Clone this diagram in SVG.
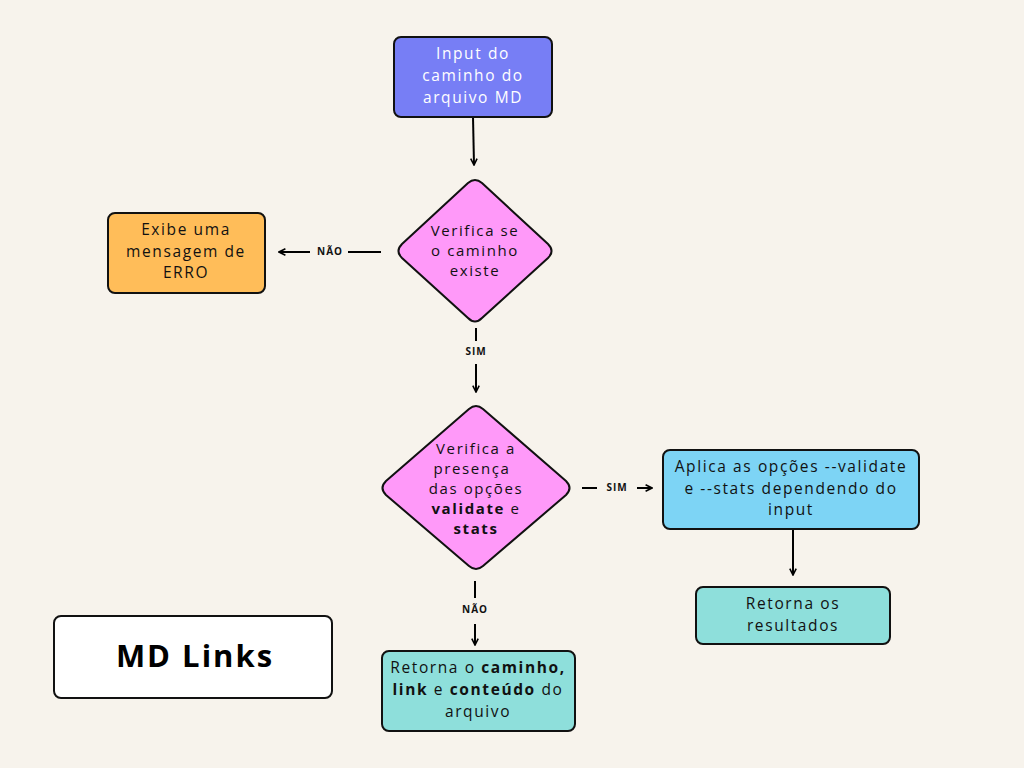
<svg xmlns="http://www.w3.org/2000/svg" width="1024" height="768" viewBox="0 0 1024 768">
<defs>
<marker id="ah" viewBox="0 0 10 10" refX="9" refY="5" markerWidth="8" markerHeight="8" markerUnits="userSpaceOnUse" orient="auto">
<path d="M1,1 L9,5 L1,9" fill="none" stroke="#000" stroke-width="2" stroke-linejoin="miter"/>
</marker>
<style>
.box{stroke:#111;stroke-width:2}
.t{font-family:"Open Sans","Liberation Sans",sans-serif;font-size:15.5px;letter-spacing:1.6px;fill:#111;text-anchor:middle}
.d{font-size:15px;letter-spacing:1.6px}
.w{fill:#fff}
.b{font-weight:700}
.lbl{font-family:"Open Sans","Liberation Sans",sans-serif;font-size:10px;font-weight:700;letter-spacing:1px;fill:#111;text-anchor:middle}
.ln{stroke:#000;stroke-width:2;fill:none}
</style>
</defs>
<rect width="1024" height="768" fill="#F7F3EC"/>
<g id="connectors">
<line class="ln" x1="473" y1="117" x2="474" y2="165" marker-end="url(#ah)"/>
<line class="ln" x1="381" y1="252" x2="348" y2="252"/>
<text class="lbl" x="330" y="255">NÃO</text>
<line class="ln" x1="310" y1="252" x2="279" y2="252" marker-end="url(#ah)"/>
<line class="ln" x1="476" y1="328" x2="476" y2="341"/>
<text class="lbl" x="476" y="355">SIM</text>
<line class="ln" x1="476" y1="364" x2="476" y2="392" marker-end="url(#ah)"/>
<line class="ln" x1="582" y1="488" x2="597" y2="488"/>
<text class="lbl" x="617" y="491">SIM</text>
<line class="ln" x1="637" y1="488" x2="652" y2="488" marker-end="url(#ah)"/>
<line class="ln" x1="793" y1="529" x2="793" y2="575" marker-end="url(#ah)"/>
<line class="ln" x1="475" y1="581" x2="475" y2="598"/>
<text class="lbl" x="475" y="613">NÃO</text>
<line class="ln" x1="475" y1="624" x2="475" y2="645" marker-end="url(#ah)"/>
</g>
<g id="input">
<rect class="box" x="394" y="37" width="158" height="80" rx="7" fill="#777EF5"/>
<text class="t w" x="473" y="59">Input do</text>
<text class="t w" x="473" y="81">caminho do</text>
<text class="t w" x="473" y="103">arquivo MD</text>
</g>
<g id="dec1">
<path class="box" d="M468,183 Q475,177 482,183 L548,244 Q555,251 548,258 L482,318 Q475,325 468,318 L402,258 Q395,251 402,244 Z" fill="#FF99F9"/>
<text class="t d" x="475" y="236">Verifica se</text>
<text class="t d" x="475" y="256">o caminho</text>
<text class="t d" x="475" y="276">existe</text>
</g>
<g id="erro">
<rect class="box" x="108" y="213" width="157" height="80" rx="7" fill="#FFBD59"/>
<text class="t" x="186" y="235">Exibe uma</text>
<text class="t" x="186" y="257">mensagem de</text>
<text class="t" x="186" y="278">ERRO</text>
</g>
<g id="dec2">
<path class="box" d="M469,409 Q476,403 483,409 L566,481 Q573,488 566,495 L483,566 Q476,572 469,566 L386,495 Q379,488 386,481 Z" fill="#FF99F9"/>
<text class="t d" x="476" y="454">Verifica a</text>
<text class="t d" x="472" y="474">presença</text>
<text class="t d" x="476" y="494">das opções</text>
<text class="t d" x="476" y="514"><tspan class="b">validate</tspan> e</text>
<text class="t d b" x="476" y="534">stats</text>
</g>
<g id="aplica">
<rect class="box" x="663" y="450" width="256" height="79" rx="7" fill="#7DD4F5"/>
<text class="t" x="791" y="472">Aplica as opções --validate</text>
<text class="t" x="791" y="494">e --stats dependendo do</text>
<text class="t" x="791" y="515">input</text>
</g>
<g id="resultados">
<rect class="box" x="696" y="587" width="194" height="57" rx="7" fill="#8EDFDB"/>
<text class="t" x="793" y="609">Retorna os</text>
<text class="t" x="793" y="631">resultados</text>
</g>
<g id="retorna">
<rect class="box" x="382" y="651" width="193" height="80" rx="7" fill="#8EDFDB"/>
<text class="t" x="478" y="673">Retorna o <tspan class="b">caminho,</tspan></text>
<text class="t" x="478" y="695"><tspan class="b">link</tspan> e <tspan class="b">conteúdo</tspan> do</text>
<text class="t" x="478" y="717">arquivo</text>
</g>
<g id="title">
<rect class="box" x="54" y="616" width="278" height="82" rx="7" fill="#FFFFFF"/>
<text x="195" y="667" font-family="'Open Sans','Liberation Sans',sans-serif" font-size="31" font-weight="700" letter-spacing="2" text-anchor="middle" fill="#000">MD Links</text>
</g>
</svg>
